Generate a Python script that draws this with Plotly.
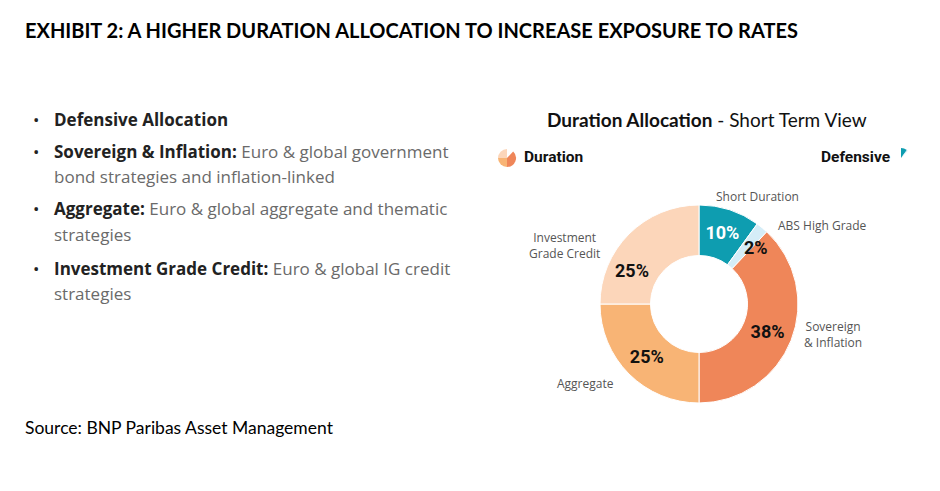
import plotly.graph_objects as go

# donut data (clockwise from 12 o'clock)
segments = ["Short Duration", "ABS High Grade", "Sovereign & Inflation",
            "Aggregate", "Investment Grade Credit"]
weights = [10, 2, 38, 25, 25]
pct_text = ["10%", "2%", "38%", "25%", "25%"]
seg_colors = ["#0E9DB0", "#D5EDF7", "#EF8659", "#F8B475", "#FCD6BA"]
pct_font_colors = ["#FFFFFF", "#111111", "#111111", "#111111", "#111111"]
is_defensive = [True, True, False, False, False]

bullets = [
    ("Defensive Allocation", ""),
    ("Sovereign & Inflation:", " Euro & global government"),
    ("", "bond strategies and inflation-linked"),
    ("Aggregate:", " Euro & global aggregate and thematic"),
    ("", "strategies"),
    ("Investment Grade Credit:", " Euro & global IG credit"),
    ("", "strategies"),
]
bullet_rows = [119, 151, 176, 209, 234, 268, 293]

W, H = 940, 491
OFF = 8  # page margin around the plot div
BODY = "Open Sans, Noto Sans, sans-serif"
NARROW = "Roboto, sans-serif"

# percent labels that sit off the ring centre in the original
manual_pct = {1: (756, 247), 4: (632, 270)}


def px_x(x):
    return (x - OFF) / W


def px_y(y):
    return 1 - (y - OFF) / H


def domain(cx, cy, r):
    return dict(x=[px_x(cx - r), px_x(cx + r)], y=[px_y(cy + r), px_y(cy - r)])


fig = go.Figure()

fig.add_trace(
    go.Pie(
        labels=segments,
        values=weights,
        text=["" if i in manual_pct else t for i, t in enumerate(pct_text)],
        textinfo="text",
        textposition="inside",
        insidetextorientation="horizontal",
        insidetextfont=dict(family=NARROW, size=18, weight="bold",
                            color=pct_font_colors),
        marker=dict(colors=seg_colors, line=dict(color="#FFFFFF", width=1)),
        hole=0.49,
        sort=False,
        direction="clockwise",
        rotation=0,
        showlegend=False,
        domain=domain(699, 304, 99),
    )
)

# small icons: duration part and defensive part of the same donut
fig.add_trace(
    go.Pie(
        labels=segments,
        values=weights,
        textinfo="none",
        marker=dict(colors=["rgba(0,0,0,0)" if d else c
                            for c, d in zip(seg_colors, is_defensive)]),
        sort=False,
        direction="clockwise",
        showlegend=False,
        hoverinfo="skip",
        domain=domain(507, 158, 9),
    )
)
fig.add_trace(
    go.Pie(
        labels=segments,
        values=weights,
        textinfo="none",
        marker=dict(colors=[c if d else "rgba(0,0,0,0)"
                            for c, d in zip(seg_colors, is_defensive)]),
        sort=False,
        direction="clockwise",
        rotation=0,
        showlegend=False,
        hoverinfo="skip",
        domain=domain(901, 158, 10),
    )
)

annotations = []


def add_text(x, y, text, size, color, family=BODY, xanchor="left"):
    annotations.append(dict(
        x=px_x(x), y=px_y(y), xref="paper", yref="paper",
        xanchor=xanchor, yanchor="middle", showarrow=False,
        text=text, font=dict(family=family, size=size, color=color),
    ))


add_text(23, 30, "<b>EXHIBIT 2: A HIGHER DURATION ALLOCATION TO INCREASE EXPOSURE TO RATES</b>",
         20, "#000000", family="Lato, sans-serif")

for (bold, rest), row in zip(bullets, bullet_rows):
    if bold:
        add_text(31, row, "•", 17, "#222222")
    txt = ""
    if bold:
        txt += f"<b>{bold}</b>"
    if rest:
        txt += f"<span style='color:#6A6A6A'>{rest}</span>"
    add_text(52, row, txt, 17, "#222222")

add_text(23, 427, "Source: BNP Paribas Asset Management", 17.5, "#000000",
         family="Lato, sans-serif")

add_text(707, 119, "<b>Duration Allocation</b> - Short Term View", 19, "#111111",
         family="Lato, sans-serif", xanchor="center")
add_text(522, 157, "<b>Duration</b>", 15.5, "#111111", family=NARROW)
add_text(892, 157, "<b>Defensive</b>", 15.5, "#111111", family=NARROW, xanchor="right")

# category labels around the donut
add_text(714, 196, "Short Duration", 12, "#555555")
add_text(776, 226, "ABS High Grade", 12, "#555555")
add_text(527, 246, "Investment<br>Grade Credit", 12, "#555555")
add_text(802, 334, "Sovereign<br>& Inflation", 12, "#555555")
add_text(555, 383, "Aggregate", 12, "#555555")

for i, (x, y) in manual_pct.items():
    add_text(x, y, f"<b>{pct_text[i]}</b>", 18, pct_font_colors[i],
             family=NARROW, xanchor="center")

fig.update_layout(
    width=W,
    height=H,
    margin=dict(l=0, r=0, t=0, b=0),
    paper_bgcolor="#FFFFFF",
    plot_bgcolor="#FFFFFF",
    annotations=annotations,
)

fig.write_html("out.html")
